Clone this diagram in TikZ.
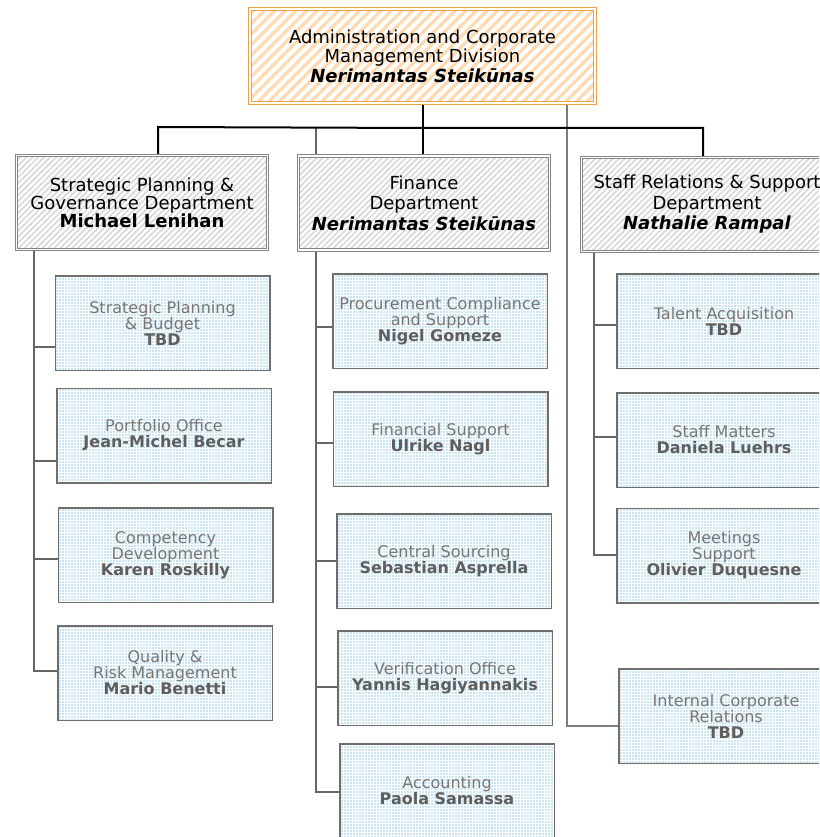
\documentclass[tikz,border=0pt]{standalone}
\usepackage{fontspec}
\setmainfont{DejaVu Sans}
\usetikzlibrary{patterns.meta,backgrounds}
\definecolor{orbord}{HTML}{F0A042}
\definecolor{orstripe}{HTML}{FFDAB0}
\definecolor{gybord}{HTML}{858585}
\definecolor{gystripe}{HTML}{D9D9D9}
\definecolor{chbord}{HTML}{6E6E6E}
\definecolor{chdot}{HTML}{96CDE6}
\definecolor{chtext}{HTML}{767676}
\definecolor{chname}{HTML}{5E5E5E}
\definecolor{lnk}{HTML}{666666}
\newcommand\pname[1]{\textbf{\color{chname}#1}}
\tikzset{
  topbox/.style={draw=orbord, line width=1pt, double=white, double distance=2pt,
    preaction={fill=white},
    pattern={Lines[angle=45,distance=7.5pt,line width=3.2pt]}, pattern color=orstripe,
    align=center, font=\fontsize{18}{19.5}\selectfont, text=black,
    minimum width=345pt, minimum height=94pt, inner sep=0pt},
  deptbox/.style={draw=gybord, line width=0.9pt, double=white, double distance=1.4pt,
    preaction={fill=white},
    pattern={Lines[angle=45,distance=4.2pt,line width=1.7pt]}, pattern color=gystripe,
    align=center, font=\fontsize{18}{20.5}\selectfont, text=black,
    minimum width=251pt, minimum height=94pt, inner sep=0pt},
  childbox/.style={draw=chbord, line width=1.5pt,
    preaction={fill=white},
    pattern={Dots[radius=0.8pt,distance=3pt]}, pattern color=chdot,
    align=center, font=\fontsize{16}{16}\selectfont, text=chtext,
    minimum width=214.5pt, minimum height=94.5pt, inner sep=0pt},
  toplink/.style={draw=black, line width=2pt},
  sublink/.style={draw=lnk, line width=1.8pt},
  farlink/.style={draw=lnk!85, line width=1.6pt}
}
\begin{document}
\begin{tikzpicture}[x=1pt,y=-1pt]
\useasboundingbox (0,0) rectangle (819,837);
\begin{scope}[on background layer]
  \fill[white] (0,0) rectangle (819,837);
\end{scope}
\clip (0,0) rectangle (819,837);

% top
\node[topbox] (top) at (422.5,56) {Administration and Corporate\\Management Division\\\textbf{\textit{Nerimantas Steikūnas}}};

% departments
\node[deptbox, font=\fontsize{18}{18}\selectfont] (strat) at (142,202.5) {Strategic Planning \&\\Governance Department\\\textbf{Michael Lenihan}};
\node[deptbox] (fin) at (424,203) {Finance\\Department\\\textbf{\textit{Nerimantas Steikūnas}}};
\node[deptbox] (staff) at (707,204.5) {Staff Relations \& Support\\Department\\\textbf{\textit{Nathalie Rampal}}};

% left children
\node[childbox] (sp) at (162.5,323) {Strategic Planning\\\& Budget\\\pname{TBD}};
\node[childbox] (po) at (164,435.5) {Portfolio Office\\\pname{Jean-Michel Becar}};
\node[childbox] (cd) at (165.5,555) {Competency\\Development\\\pname{Karen Roskilly}};
\node[childbox] (qr) at (165,673) {Quality \&\\Risk Management\\\pname{Mario Benetti}};

% middle children
\node[childbox] (pc) at (440,321) {Procurement Compliance\\and Support\\\pname{Nigel Gomeze}};
\node[childbox] (fs) at (440.5,439) {Financial Support\\\pname{Ulrike Nagl}};
\node[childbox] (cs) at (444,561) {Central Sourcing\\\pname{Sebastian Asprella}};
\node[childbox] (vo) at (445,678) {Verification Office\\\pname{Yannis Hagiyannakis}};
\node[childbox] (ac) at (447,791) {Accounting\\\pname{Paola Samassa}};

% right children
\node[childbox] (ta) at (724,321) {Talent Acquisition\\\pname{TBD}};
\node[childbox] (sm) at (724,440) {Staff Matters\\\pname{Daniela Luehrs}};
\node[childbox] (ms) at (724,555.5) {Meetings\\Support\\\pname{Olivier Duquesne}};
\node[childbox] (icr) at (726,716) {Internal Corporate\\Relations\\\pname{TBD}};

% junctions
\coordinate (jL) at (158,127);
\coordinate (jF) at (316,127);
\coordinate (jC) at (423,128);
\coordinate (jR) at (703,128);
\coordinate (bsp) at (34,347);
\coordinate (bpo) at (34,461);
\coordinate (bcd) at (34,559);
\coordinate (bqr) at (34,671);
\coordinate (bpc) at (316,327);
\coordinate (bfs) at (316,443);
\coordinate (bcs) at (316,561);
\coordinate (bvo) at (316,687);
\coordinate (bac) at (316,792);
\coordinate (bta) at (594,325);
\coordinate (bsm) at (594,437);
\coordinate (bms) at (594,555);
\coordinate (bicr) at (567,726);

\begin{scope}[on background layer]
  % middle trunk (behind the finance box)
  \draw[sublink] (jF) -- (bac) -- (ac.west |- bac);
  \draw[sublink] (bpc) -- (pc.west |- bpc);
  \draw[sublink] (bfs) -- (fs.west |- bfs);
  \draw[sublink] (bcs) -- (cs.west |- bcs);
  \draw[sublink] (bvo) -- (vo.west |- bvo);
  % left trunk
  \draw[sublink] (bsp |- strat.south) -- (bqr) -- (qr.west |- bqr);
  \draw[sublink] (bsp) -- (sp.west |- bsp);
  \draw[sublink] (bpo) -- (po.west |- bpo);
  \draw[sublink] (bcd) -- (cd.west |- bcd);
  % right trunk
  \draw[sublink] (bta |- staff.south) -- (bms) -- (ms.west |- bms);
  \draw[sublink] (bta) -- (ta.west |- bta);
  \draw[sublink] (bsm) -- (sm.west |- bsm);
  % internal corporate relations
  \draw[farlink] (top.south -| bicr) -- (bicr) -- (icr.west |- bicr);
  % top level
  \draw[toplink] (jL |- strat.north) -- (jL) -- (jC) -- (jR) -- (jR |- staff.north);
  \draw[toplink] (top.south -| jC) -- (jC) -- (jC |- fin.north);
\end{scope}
\end{tikzpicture}
\end{document}
